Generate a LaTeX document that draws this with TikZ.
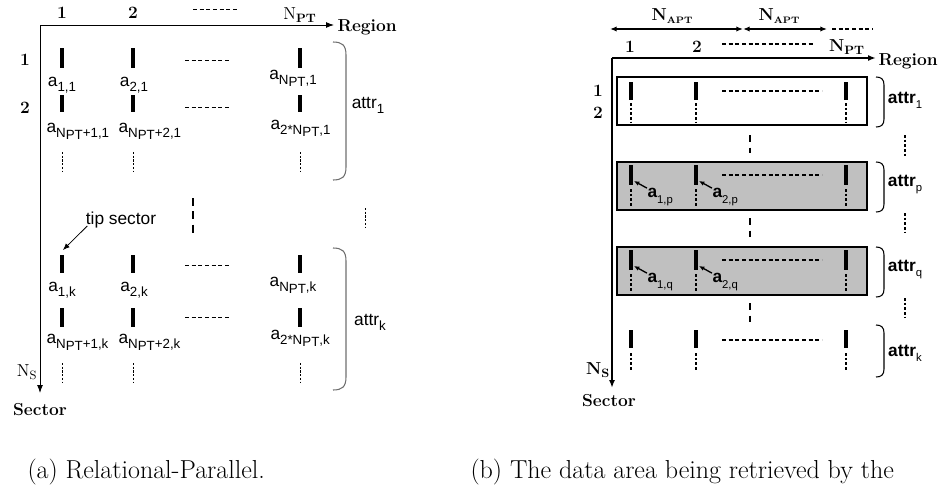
\documentclass[tikz,border=0pt]{standalone}
\usepackage{fontspec}
\usetikzlibrary{arrows.meta}
\newfontfamily\labsans{Liberation Sans}
\newcommand{\lsub}[1]{\raisebox{-0.55ex}{\fontsize{10}{10}\selectfont #1}}
\newcommand{\bsub}[1]{\raisebox{-0.55ex}{\fontsize{8.5}{8.5}\selectfont #1}}
\newcommand{\npt}{N\raisebox{-0.3ex}{PT}}

\tikzset{
	every picture/.style={line width=0.75pt},
	tbar/.style={line width=3pt},
	sbar/.style={line width=2.6pt},
	vdots/.style={line width=0.6pt, dash pattern=on 1.6pt off 1.2pt},
	bdots/.style={line width=1.4pt, dash pattern=on 2pt off 1.5pt},
	hdash/.style={line width=0.6pt, dash pattern=on 3pt off 2pt},
	bigdash/.style={line width=2.2pt, dash pattern=on 6pt off 4pt},
	brc/.style={line width=0.8pt, draw={rgb, 255:red, 110; green, 110; blue, 110}},
	lab/.style={font=\labsans\fontsize{13}{13}\selectfont, inner sep=0pt},
	blab/.style={font=\labsans\bfseries\fontsize{13}{13}\selectfont, inner sep=0pt},
	serb/.style={font=\bfseries\fontsize{13}{13}\selectfont, inner sep=0pt},
	ser/.style={font=\fontsize{13}{13}\selectfont, inner sep=0pt},
	capt/.style={anchor=base west, font=\fontsize{19.5}{22}\selectfont, inner sep=0pt},
	axtip/.style={-{Latex[length=6pt,width=4.5pt]}}
}

\begin{document}
\begin{tikzpicture}[x=0.75pt,y=0.75pt,yscale=-1,xscale=1]
	\useasboundingbox (0,0) rectangle (942,489);

	%%% (a) Relational-Parallel
	% axes
	\coordinate (oa) at (40,25);
	\coordinate (ra) at (334,25);
	\coordinate (sa) at (40,393);
	\draw [axtip] (oa) -- (ra) ;
	\draw [axtip] (oa) -- (sa) ;
	% Text Node
	\node [serb, anchor=west] (rega) at (337,27) {Region};
	% Text Node
	\node [serb] (seca) at (40,410) {Sector};
	% Text Node
	\node [ser] (nsa) at (27,372) {N\textsubscript{S}};
	% Text Node
	\node [serb] (c1a) at (62,13) {1};
	% Text Node
	\node [serb] (c2a) at (133,13) {2};
	\draw [hdash] (193,9) -- (237,9) ;
	% Text Node
	\node [ser] (npta) at (300,15) {N\textsubscript{\bfseries PT}};
	% Text Node
	\node [serb] (r1a) at (25,60) {1};
	% Text Node
	\node [serb] (r2a) at (25,108) {2};

	% sectors of attr_1 and attr_k
	\foreach \x in {62,133,300} {
		\draw [tbar] (\x,48) -- (\x,68) ;
		\draw [tbar] (\x,95) -- (\x,112) ;
		\draw [vdots] (\x,152) -- (\x,172) ;
		\draw [tbar] (\x,255) -- (\x,273) ;
		\draw [tbar] (\x,308) -- (\x,327) ;
		\draw [vdots] (\x,363) -- (\x,383) ;
	}
	\foreach \y in {60,107,265,317} {
		\draw [hdash] (185,\y) -- (230,\y) ;
	}

	% Text Node
	\node [lab] (a11) at (62,85) {a\lsub{1,1}};
	\node [lab] (a21) at (134,85) {a\lsub{2,1}};
	\node [lab] (an1) at (293,78) {a\lsub{\npt,1}};
	\node [lab, anchor=west] (am11) at (46,131) {a\lsub{\npt+1,1}};
	\node [lab, anchor=west] (am21) at (118,131) {a\lsub{\npt+2,1}};
	\node [lab, anchor=west] (a2n1) at (270,128) {a\lsub{2*\npt,1}};
	% Text Node
	\node [lab] (a1k) at (62,290) {a\lsub{1,k}};
	\node [lab] (a2k) at (134,290) {a\lsub{2,k}};
	\node [lab] (ank) at (293,285) {a\lsub{\npt,k}};
	\node [lab, anchor=west] (am1k) at (46,342) {a\lsub{\npt+1,k}};
	\node [lab, anchor=west] (am2k) at (118,342) {a\lsub{\npt+2,k}};
	\node [lab, anchor=west] (a2nk) at (270,338) {a\lsub{2*\npt,k}};

	% braces
	\draw [brc] (333,42) .. controls (342,42) and (346,45) .. (346,55) -- (346,167) .. controls (346,177) and (342,180) .. (333,180) ;
	\draw [brc] (333,248) .. controls (342,248) and (346,251) .. (346,261) -- (346,377) .. controls (346,387) and (342,390) .. (333,390) ;
	% Text Node
	\node [lab] (attr1a) at (368,105) {attr\lsub{1}};
	% Text Node
	\node [lab] (attrka) at (370,322) {attr\lsub{k}};

	\draw [bigdash] (193,198) -- (193,233) ;
	\draw [vdots] (365,208) -- (365,228) ;
	% Text Node
	\node [lab] (tipsec) at (121,220) {tip sector};
	\coordinate (tipend) at (63,250);
	\draw [-{Latex[length=5pt,width=4pt]}, line width=0.6pt] ([xshift=1.5pt,yshift=-2pt]tipsec.south west) -- (tipend) ;

	%%% (b) data area being retrieved
	\coordinate (w1) at (610,29);
	\coordinate (w2) at (743,29);
	\coordinate (w3) at (827,29);
	\draw [{Latex[length=5pt,width=4pt]}-{Latex[length=5pt,width=4pt]}, line width=1.3pt] (w1) -- (w2) ;
	\draw [{Latex[length=5pt,width=4pt]}-{Latex[length=5pt,width=4pt]}, line width=1.3pt] (w2) -- (w3) ;
	\draw [hdash, line width=1pt] (832,29) -- (873,29) ;
	% Text Node
	\node [serb] (napt1) at (672,16) {N\raisebox{-0.3ex}{\fontsize{7}{7}\selectfont APT}};
	% Text Node
	\node [serb] (napt2) at (779,16) {N\raisebox{-0.3ex}{\fontsize{7}{7}\selectfont APT}};
	% Text Node
	\node [serb] (c1b) at (630,47) {1};
	\node [serb] (c2b) at (697,47) {2};
	\draw [hdash, line width=1pt] (722,44) -- (815,44) ;
	\node [serb] (nptb) at (847,47) {N\textsubscript{PT}};

	\coordinate (ob) at (612,58);
	\coordinate (rb) at (876,58);
	\coordinate (sb) at (612,388);
	\draw [axtip, line width=1.5pt] (ob) -- (rb) ;
	\draw [axtip, line width=1.5pt] (ob) -- (sb) ;
	% Text Node
	\node [serb, anchor=west] (regb) at (878,61) {Region};
	\node [serb] (secb) at (609,401) {Sector};
	\node [serb] (nsb) at (598,370) {N\textsubscript{S}};
	\node [serb] (r1b) at (598,91) {1};
	\node [serb] (r2b) at (598,113) {2};

	% attribute rows
	\draw [line width=0.8pt] (617,77) rectangle (867,125) ;
	\draw [line width=0.8pt, fill={rgb, 255:red, 192; green, 192; blue, 192 }] (617,162) rectangle (867,210) ;
	\draw [line width=0.8pt, fill={rgb, 255:red, 192; green, 192; blue, 192 }] (617,247) rectangle (867,295) ;
	\foreach \x in {631,696,846} {
		\draw [sbar] (\x,82) -- (\x,100) ;
		\draw [bdots] (\x,103) -- (\x,122) ;
		\draw [sbar] (\x,165) -- (\x,185) ;
		\draw [bdots] (\x,189) -- (\x,207) ;
		\draw [sbar] (\x,250) -- (\x,270) ;
		\draw [bdots] (\x,274) -- (\x,292) ;
		\draw [sbar] (\x,330) -- (\x,348) ;
		\draw [bdots] (\x,353) -- (\x,370) ;
	}
	\foreach \y in {91,175,260,340} {
		\draw [hdash, line width=1pt] (722,\y) -- (822,\y) ;
	}
	\foreach \a/\b in {135/153,218/237,303/322} {
		\draw [line width=2.2pt, dash pattern=on 5.5pt off 4pt] (750,\a) -- (750,\b) ;
	}
	\foreach \a/\b in {135/157,213/233,298/317} {
		\draw [bdots] (905,\a) -- (905,\b) ;
	}
	% braces
	\foreach \a/\b in {77/127,162/212,247/297,325/377} {
		\draw [line width=0.8pt] (876,\a) .. controls (881,\a) and (884,\a+2) .. (884,\a+8) -- (884,\b-8) .. controls (884,\b-2) and (881,\b) .. (876,\b) ;
	}
	% Text Node
	\node [blab] (attr1b) at (905,100) {attr\bsub{\mdseries 1}};
	\node [blab] (attrp) at (905,185) {attr\bsub{\mdseries p}};
	\node [blab] (attrq) at (905,270) {attr\bsub{\mdseries q}};
	\node [blab] (attrkb) at (905,353) {attr\bsub{\mdseries k}};

	% pointed sectors
	\node [blab, anchor=west] (a1p) at (647,197) {a\bsub{\mdseries 1,p}};
	\node [blab, anchor=west] (a2p) at (712,197) {a\bsub{\mdseries 2,p}};
	\node [blab, anchor=west] (a1q) at (647,282) {a\bsub{\mdseries 1,q}};
	\node [blab, anchor=west] (a2q) at (712,282) {a\bsub{\mdseries 2,q}};
	\coordinate (t1p) at (634,181);
	\coordinate (t2p) at (699,181);
	\coordinate (t1q) at (634,266);
	\coordinate (t2q) at (699,266);
	\draw [-{Latex[length=4pt,width=3.5pt]}, line width=1pt] (a1p.north west) -- (t1p) ;
	\draw [-{Latex[length=4pt,width=3.5pt]}, line width=1pt] (a2p.north west) -- (t2p) ;
	\draw [-{Latex[length=4pt,width=3.5pt]}, line width=1pt] (a1q.north west) -- (t1q) ;
	\draw [-{Latex[length=4pt,width=3.5pt]}, line width=1pt] (a2q.north west) -- (t2q) ;

	% captions
	\node [capt] (capa) at (27,478) {(a) Relational-Parallel.};
	\node [capt] (capb) at (470,478) {(b) The data area being retrieved by the};

\end{tikzpicture}
\end{document}
